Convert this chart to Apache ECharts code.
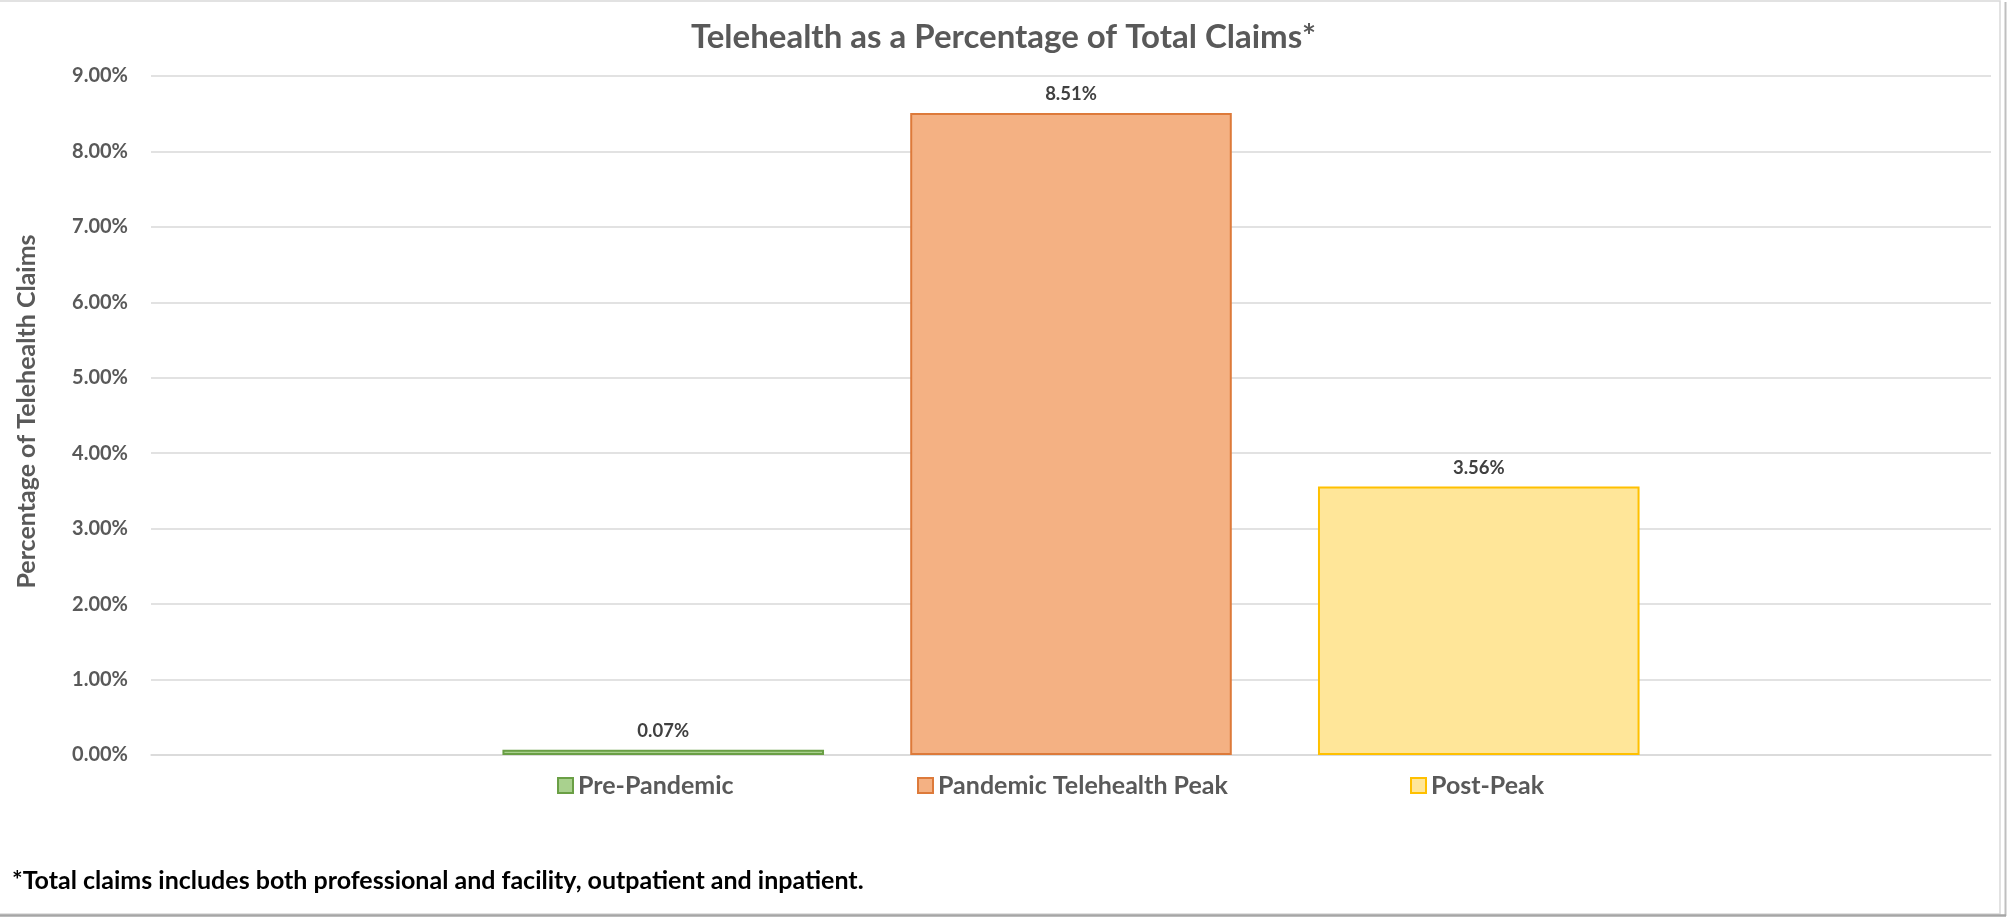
<!DOCTYPE html>
<html>
<head>
<meta charset="utf-8">
<script src="https://cdn.jsdelivr.net/npm/echarts@6/dist/echarts.min.js"></script>
<style>
html,body{margin:0;padding:0;background:#fff;}
#chart{width:2007px;height:917px;}
</style>
</head>
<body>
<div id="chart"></div>
<script>
// ---- data ----
const categories = [''];
const seriesNames = ['Pre-Pandemic', 'Pandemic Telehealth Peak', 'Post-Peak'];
const preValues = [0.07];
const peakValues = [8.51];
const postValues = [3.56];
const yTicks = [0, 1, 2, 3, 4, 5, 6, 7, 8, 9];

const titleText = 'Telehealth as a Percentage of Total Claims*';
const yAxisTitle = 'Percentage of Telehealth Claims';
const footnote = '*Total claims includes both professional and facility, outpatient and inpatient.';

const FONT = 'Lato';
const GRAY = '#595959';
const fills = ['#A9D18E', '#F4B183', '#FFE699'];
const borders = ['#6A9F45', '#DD7A3A', '#FFC000'];
const valuesList = [preValues, peakValues, postValues];
const legendLefts = [557, 917, 1410];

const chart = echarts.init(document.getElementById('chart'), null, {renderer: 'canvas'});

const series = seriesNames.map((name, i) => ({
  name: name,
  type: 'bar',
  data: valuesList[i],
  barCategoryGap: '38.2%',
  barGap: '26.8%',
  itemStyle: {color: fills[i], borderColor: borders[i], borderWidth: 2},
  label: {
    show: true,
    position: 'top',
    distance: 9,
    color: '#404040',
    fontFamily: FONT,
    fontWeight: 'bold',
    fontSize: 18.5,
    formatter: p => p.value.toFixed(2) + '%'
  },
  emphasis: {disabled: true}
}));

const legends = seriesNames.map((name, i) => ({
  data: [name],
  left: legendLefts[i],
  top: 773,
  padding: 0,
  orient: 'horizontal',
  itemWidth: 15,
  itemHeight: 15,
  itemGap: 0,
  icon: 'rect',
  textStyle: {color: GRAY, fontFamily: FONT, fontWeight: 'bold', fontSize: 25, padding: [0, 0, 0, 0]},
  selectedMode: false
}));

chart.setOption({
  animation: false,
  backgroundColor: '#ffffff',
  title: {
    text: titleText,
    left: 'center',
    top: 16,
    textStyle: {color: GRAY, fontFamily: FONT, fontWeight: 'bold', fontSize: 33}
  },
  legend: legends,
  grid: {left: 151, right: 16, top: 76, bottom: 162, containLabel: false},
  xAxis: {
    type: 'category',
    data: categories,
    axisLine: {show: true, lineStyle: {color: '#D9D9D9', width: 1.5}},
    axisTick: {show: false},
    axisLabel: {show: false}
  },
  yAxis: {
    type: 'value',
    min: yTicks[0],
    max: yTicks[yTicks.length - 1],
    interval: 1,
    name: yAxisTitle,
    nameLocation: 'middle',
    nameRotate: 90,
    nameGap: 112,
    nameTextStyle: {color: GRAY, fontFamily: FONT, fontWeight: 'bold', fontSize: 25, padding: [0, 0, 0, 8]},
    axisLine: {show: false},
    axisTick: {show: false},
    splitLine: {lineStyle: {color: '#D9D9D9', width: 1.5}},
    axisLabel: {
      color: GRAY,
      fontFamily: FONT,
      fontWeight: 'bold',
      fontSize: 20,
      margin: 23,
      formatter: v => v.toFixed(2) + '%'
    }
  },
  series: series,
  graphic: [
    {type: 'text', left: 12, top: 868, style: {text: footnote, fill: '#000000', font: 'bold 25px Lato'}},
    {type: 'rect', shape: {x: -5, y: 1, width: 2010 - 5, height: 913}, style: {fill: 'none', stroke: '#D9D9D9', lineWidth: 1.5}, silent: true},
    {type: 'line', shape: {x1: 2005.5, y1: 2, x2: 2005.5, y2: 916}, style: {stroke: '#BFBFBF', lineWidth: 2}, silent: true},
    {type: 'line', shape: {x1: 0, y1: 915.5, x2: 2006, y2: 915.5}, style: {stroke: '#A6A6A6', lineWidth: 2.5}, silent: true}
  ]
});
</script>
</body>
</html>
